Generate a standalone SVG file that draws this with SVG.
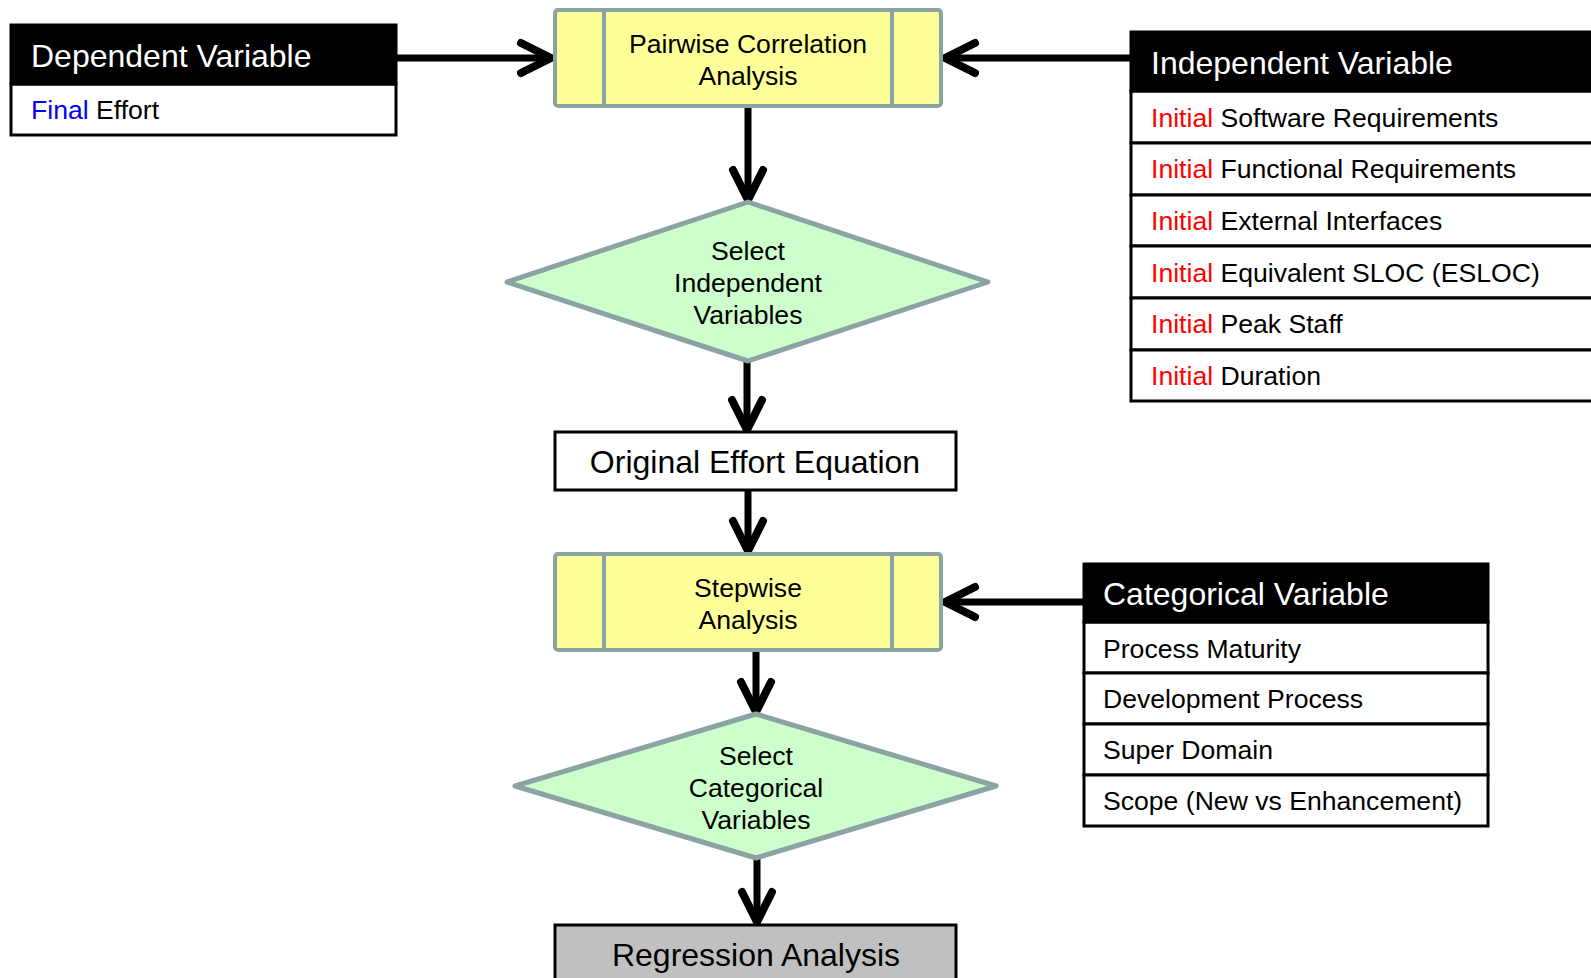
<svg xmlns="http://www.w3.org/2000/svg" width="1591" height="978" viewBox="0 0 1591 978">
<defs>
<style>
text{font-family:"Liberation Sans",Arial,sans-serif;}
.hdr{fill:#000;stroke:#000;stroke-width:3;}
.row{fill:#fff;stroke:#000;stroke-width:3;}
.ht{fill:#fff;font-size:32px;}
.rt{fill:#000;font-size:26.6px;}
.red{fill:#ff0000;}
.blue{fill:#0000ff;}
.proc{fill:#ffff99;stroke:#8BA3A3;stroke-width:4;}
.dec{fill:#ccffcc;stroke:#8BA3A3;stroke-width:5;stroke-linejoin:round;}
.ct{fill:#000;font-size:26.6px;text-anchor:middle;}
.bt{fill:#000;font-size:32px;text-anchor:middle;}
.conn{fill:none;stroke:#000;stroke-width:7;}
</style>
<marker id="arr" markerUnits="userSpaceOnUse" markerWidth="60" markerHeight="60" refX="0" refY="0" orient="auto" overflow="visible" viewBox="-40 -30 60 60">
<path d="M-29,-15 L1,0 L-29,15" fill="none" stroke="#000" stroke-width="8" stroke-linecap="round" stroke-linejoin="round"/>
</marker>
</defs>
<rect width="1591" height="978" fill="#fff"/>

<g id="connectors">
<path class="conn" d="M396,58 L550,58" marker-end="url(#arr)"/>
<path class="conn" d="M1131,58 L946,58" marker-end="url(#arr)"/>
<path class="conn" d="M748,107 L748,199" marker-end="url(#arr)"/>
<path class="conn" d="M747,361 L747,429" marker-end="url(#arr)"/>
<path class="conn" d="M748,490 L748,550" marker-end="url(#arr)"/>
<path class="conn" d="M1084,602 L946,602" marker-end="url(#arr)"/>
<path class="conn" d="M756,650 L756,711" marker-end="url(#arr)"/>
<path class="conn" d="M757,858 L757,921" marker-end="url(#arr)"/>
</g>

<g id="dependent-variable">
<rect class="row" x="11" y="84" width="385" height="51"/>
<rect class="hdr" x="11" y="25" width="385" height="59"/>
<text class="ht" x="31" y="67">Dependent Variable</text>
<text class="rt" x="31" y="119"><tspan class="blue">Final</tspan> Effort</text>
</g>

<g id="pairwise-correlation">
<rect class="proc" x="555" y="10" width="386" height="96" rx="3"/>
<line x1="604" y1="10" x2="604" y2="106" stroke="#8BA3A3" stroke-width="4"/>
<line x1="892" y1="10" x2="892" y2="106" stroke="#8BA3A3" stroke-width="4"/>
<text class="ct" x="748" y="53">Pairwise Correlation</text>
<text class="ct" x="748" y="85">Analysis</text>
</g>

<g id="independent-variable">
<rect class="row" x="1131" y="91" width="480" height="52"/>
<rect class="row" x="1131" y="143" width="480" height="52"/>
<rect class="row" x="1131" y="195" width="480" height="51"/>
<rect class="row" x="1131" y="246" width="480" height="52"/>
<rect class="row" x="1131" y="298" width="480" height="52"/>
<rect class="row" x="1131" y="350" width="480" height="51"/>
<rect class="hdr" x="1131" y="32" width="480" height="59"/>
<text class="ht" x="1151" y="74">Independent Variable</text>
<text class="rt" x="1151" y="127"><tspan class="red">Initial</tspan> Software Requirements</text>
<text class="rt" x="1151" y="178"><tspan class="red">Initial</tspan> Functional Requirements</text>
<text class="rt" x="1151" y="230"><tspan class="red">Initial</tspan> External Interfaces</text>
<text class="rt" x="1151" y="282"><tspan class="red">Initial</tspan> Equivalent SLOC (ESLOC)</text>
<text class="rt" x="1151" y="333"><tspan class="red">Initial</tspan> Peak Staff</text>
<text class="rt" x="1151" y="385"><tspan class="red">Initial</tspan> Duration</text>
</g>

<g id="select-independent">
<polygon class="dec" points="748,202 988,282 748,361 507,282"/>
<text class="ct" x="748" y="260">Select</text>
<text class="ct" x="748" y="292">Independent</text>
<text class="ct" x="748" y="324">Variables</text>
</g>

<g id="original-effort-equation">
<rect x="555" y="432" width="401" height="58" fill="#fff" stroke="#000" stroke-width="3"/>
<text class="bt" x="755" y="473">Original Effort Equation</text>
</g>

<g id="stepwise-analysis">
<rect class="proc" x="555" y="554" width="386" height="96" rx="3"/>
<line x1="604" y1="554" x2="604" y2="650" stroke="#8BA3A3" stroke-width="4"/>
<line x1="892" y1="554" x2="892" y2="650" stroke="#8BA3A3" stroke-width="4"/>
<text class="ct" x="748" y="597">Stepwise</text>
<text class="ct" x="748" y="629">Analysis</text>
</g>

<g id="categorical-variable">
<rect class="row" x="1084" y="622" width="404" height="51"/>
<rect class="row" x="1084" y="673" width="404" height="51"/>
<rect class="row" x="1084" y="724" width="404" height="51"/>
<rect class="row" x="1084" y="775" width="404" height="51"/>
<rect class="hdr" x="1084" y="564" width="404" height="58"/>
<text class="ht" x="1103" y="605">Categorical Variable</text>
<text class="rt" x="1103" y="658">Process Maturity</text>
<text class="rt" x="1103" y="708">Development Process</text>
<text class="rt" x="1103" y="759">Super Domain</text>
<text class="rt" x="1103" y="810">Scope (New vs Enhancement)</text>
</g>

<g id="select-categorical">
<polygon class="dec" points="756,714 996,786 756,858 515,786"/>
<text class="ct" x="756" y="765">Select</text>
<text class="ct" x="756" y="797">Categorical</text>
<text class="ct" x="756" y="829">Variables</text>
</g>

<g id="regression-analysis">
<rect x="555" y="925" width="401" height="70" fill="#c0c0c0" stroke="#000" stroke-width="3"/>
<text class="bt" x="756" y="966">Regression Analysis</text>
</g>
</svg>
